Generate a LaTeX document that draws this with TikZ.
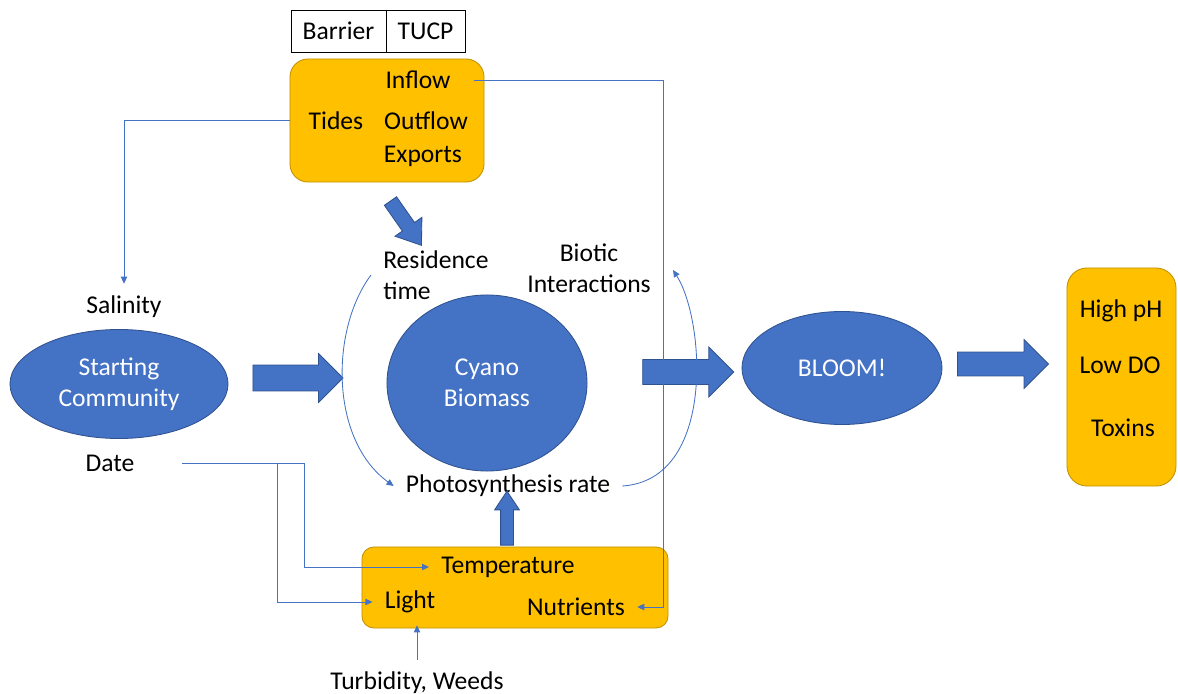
\documentclass[tikz,border=0pt]{standalone}
\usepackage{fontspec}
\setmainfont{Carlito}
\usepackage{tikz}
\usetikzlibrary{arrows.meta, calc, positioning, shapes.geometric, shapes.arrows}
\definecolor{cyanoblue}{HTML}{4472C4}
\definecolor{cyanoedge}{HTML}{2F528F}
\definecolor{boxorange}{HTML}{FFC000}
\definecolor{boxedge}{HTML}{BF9000}
\newcommand{\mainsize}{\fontsize{18.2}{22}\selectfont}
\tikzset{
  >={Triangle[length=5pt,width=4.5pt]},
  every node/.append style={font=\mainsize},
  bluestate/.style={
    ellipse,draw=cyanoedge,fill=cyanoblue,line width=0.6pt,text=white,
    align=center,inner sep=0pt
  },
  orangebox/.style={draw=boxedge,fill=boxorange,line width=0.6pt,inner sep=0pt},
  rectbox/.style={draw,line width=0.6pt,minimum height=1.05cm,inner sep=0pt},
  fatarrow/.style={single arrow,draw=cyanoedge,fill=cyanoblue,line width=0.6pt,inner xsep=0pt},
  thinarr/.style={draw=cyanoblue,->,line width=0.6pt},
  lbl/.style={inner sep=0.3cm,align=center}, % plain text label
}

\begin{document}
\begin{tikzpicture}[x=0.025cm,y=-0.025cm]
  \useasboundingbox (0,0) rectangle (1178,694);

  % Barrier / TUCP
  \node[rectbox,minimum width=2.375cm] (barrier) at (338.5,31) {Barrier};
  \node[rectbox,minimum width=1.975cm] (tucp) at (425.5,31) {TUCP};

  % flows
  \node[orangebox,rounded corners=0.45cm,minimum width=4.85cm,minimum height=3.075cm]
    (flowbox) at (387,120.5) {};
  \node[lbl] (inflow) at (418,80) {Inflow};
  \node[lbl] (tides) at (336,121) {Tides};
  \node[lbl] (outflow) at (426,121) {Outflow};
  \node[lbl] (exports) at (423,156) {Exports};

  % conditions
  \node[orangebox,rounded corners=0.3cm,minimum width=7.65cm,minimum height=2.025cm]
    (condbox) at (515,587.5) {};
  \node[lbl] (temp) at (508,567) {Temperature};
  \node[lbl] (light) at (410,602) {Light};
  \node[lbl] (nutr) at (576,607) {Nutrients};

  % effects
  \node[orangebox,rounded corners=0.5cm,minimum width=2.725cm,minimum height=5.45cm]
    (effbox) at (1121.5,377) {};
  \node[lbl] (ph) at (1121,311) {High pH};
  \node[lbl] (do) at (1120,365) {Low DO};
  \node[lbl] (toxins) at (1123,428) {Toxins};

  % states
  \node[bluestate,minimum width=5.45cm,minimum height=2.725cm] (start) at (119,384)
    {Starting\\Community};
  \node[bluestate,minimum width=5cm,minimum height=4.4cm] (cyano) at (487,383)
    {Cyano\\Biomass};
  \node[bluestate,minimum width=5cm,minimum height=2.825cm] (bloom) at (842,368) {BLOOM!};

  % labels
  \node[lbl] (salinity) at (124,307) {Salinity};
  \node[lbl] (date) at (110,463) {Date};
  \node[lbl,anchor=west,align=left] (res) at (371,275) {Residence\\time};
  \node[lbl] (biotic) at (589,268) {Biotic\\Interactions};
  \node[lbl] (photo) at (508,486) {Photosynthesis rate};
  \node[lbl] (turb) at (417,683) {Turbidity, Weeds};

  % big arrows
  \node[fatarrow,minimum height=2.25cm,inner ysep=0.3125cm,single arrow head extend=0.2875cm]
    (startarr) at (291.5,378) {};
  \node[fatarrow,minimum height=2.275cm,inner ysep=0.3cm,single arrow head extend=0.3125cm]
    (bloomarr) at (682,372) {};
  \node[fatarrow,minimum height=2.275cm,inner ysep=0.2875cm,single arrow head extend=0.3125cm]
    (effarr) at (997,364) {};
  \node[fatarrow,minimum height=1.35cm,inner ysep=0.15cm,single arrow head extend=0.15cm,
    single arrow tip angle=67,rotate=90] (photoarr) at (507,523) {};
  \node[fatarrow,minimum height=1.35cm,inner ysep=0.175cm,single arrow head extend=0.225cm,
    single arrow tip angle=72,rotate=-55] (resarr) at (403,219) {};

  % thin connectors
  \draw[thinarr] ([xshift=0.275cm]inflow.east) -- (663,80) |- (nutr.east);
  \draw[thinarr] (flowbox.west) -| (salinity.north);
  \draw[thinarr] ([xshift=0.875cm]date.east) -- (304,463) |- (temp.west);
  \coordinate (datefork) at (277,463);
  \draw[thinarr] (datefork) |- (light.west);
  \draw[thinarr] (turb.north) -- (turb.north |- light.south);
  \draw[thinarr] (res.west) .. controls (330,330) and (330,440) .. (photo.west);
  \draw[thinarr] (photo.east) .. controls (716,480) and (705,320) .. (673,270);
\end{tikzpicture}
\end{document}
